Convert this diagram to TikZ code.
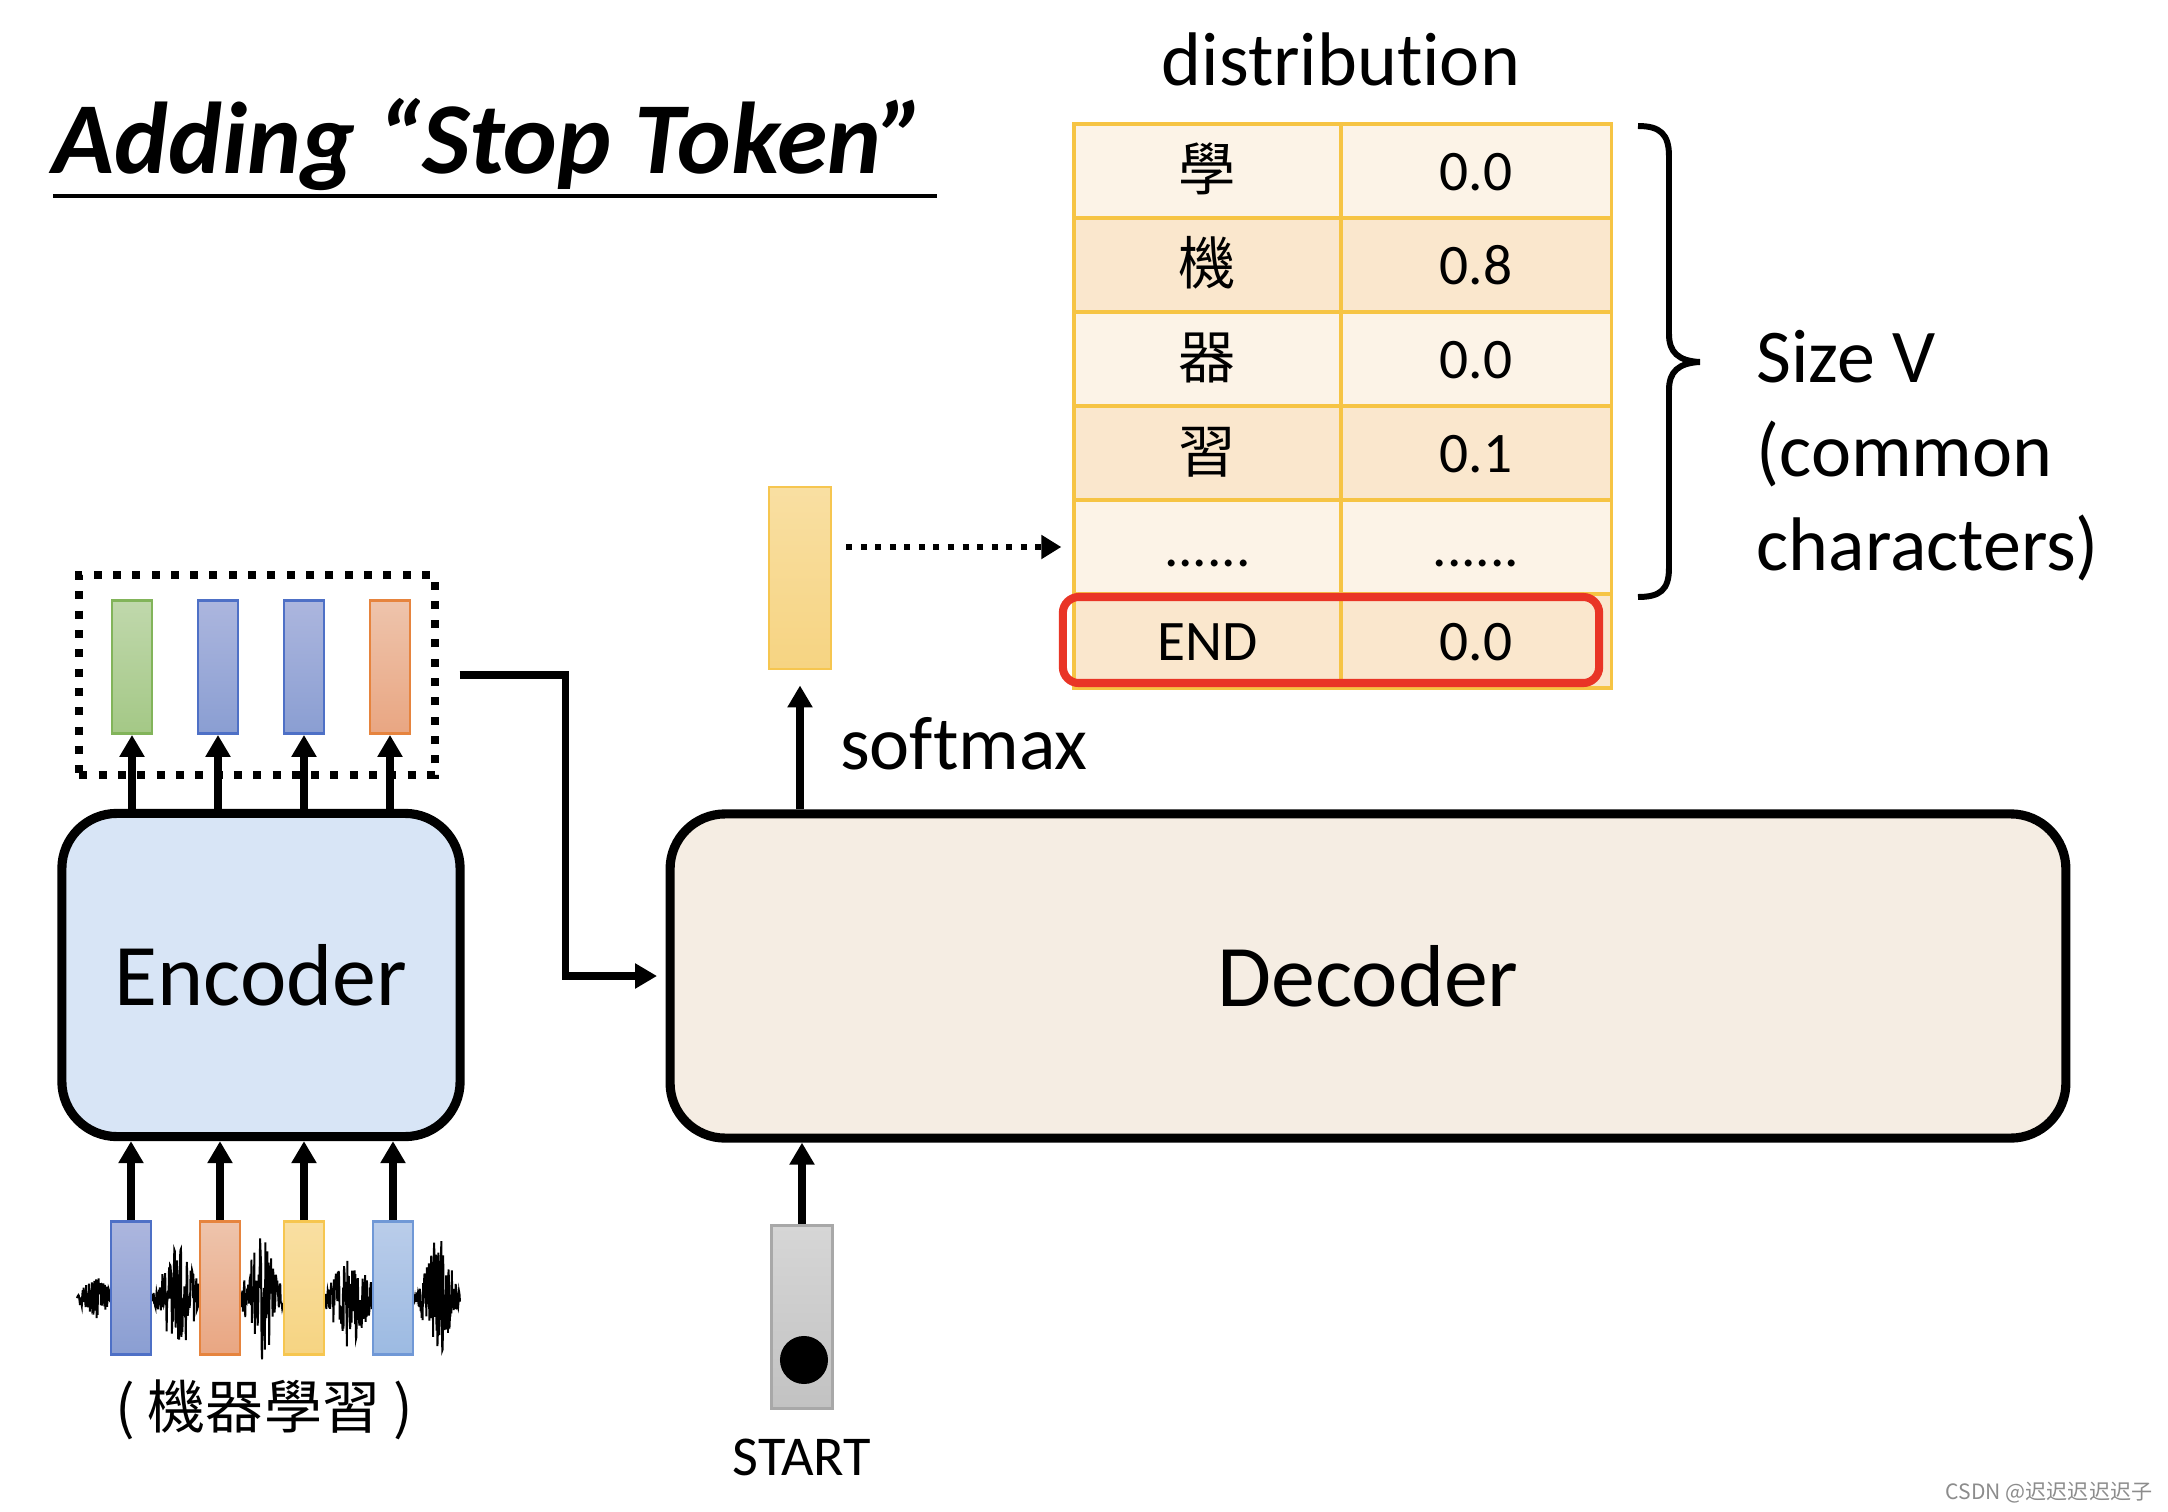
\documentclass[tikz,border=0pt]{standalone}
\usepackage{fontspec}
\setmainfont{Carlito}[Ligatures={NoCommon}]
\newfontfamily\cjk{Noto Sans CJK TC}
\newfontfamily\cjksc{Noto Sans CJK SC}
\usepackage{tikz}
\usetikzlibrary{arrows.meta}
\usetikzlibrary{positioning}
\definecolor{EncBlue}{RGB}{216,229,246}
\definecolor{DecBeige}{RGB}{245,237,227}
\definecolor{CellLight}{RGB}{252,243,231}
\definecolor{CellDark}{RGB}{250,231,205}
\definecolor{CellLine}{RGB}{246,196,68}
\definecolor{EndRed}{RGB}{233,53,38}
\definecolor{VGreenTop}{RGB}{192,216,172}
\definecolor{VGreenBot}{RGB}{164,200,134}
\definecolor{VGreenLine}{RGB}{130,180,90}
\definecolor{VBlueTop}{RGB}{172,182,222}
\definecolor{VBlueBot}{RGB}{138,158,210}
\definecolor{VBlueLine}{RGB}{78,112,198}
\definecolor{VOrangeTop}{RGB}{238,196,172}
\definecolor{VOrangeBot}{RGB}{233,166,130}
\definecolor{VOrangeLine}{RGB}{230,132,62}
\definecolor{VYellowTop}{RGB}{249,223,162}
\definecolor{VYellowBot}{RGB}{246,212,130}
\definecolor{VYellowLine}{RGB}{246,198,80}
\definecolor{VSkyTop}{RGB}{186,205,234}
\definecolor{VSkyBot}{RGB}{156,186,226}
\definecolor{VSkyLine}{RGB}{112,152,214}
\definecolor{VGrayTop}{RGB}{214,214,214}
\definecolor{VGrayBot}{RGB}{194,194,194}
\definecolor{VGrayLine}{RGB}{168,168,168}
\tikzset{
  MyBlock/.style={
    rectangle, rounded corners=5.5mm,
    line width=2.6pt, draw=black,
    font=\fontsize{25}{30}\selectfont,
  },
  MyVec/.style={
    rectangle, inner sep=0pt, line width=0.8pt,
    minimum width=4mm, minimum height=13.3mm,
  },
  MyCell/.style={
    rectangle, draw=CellLine, line width=0.9pt,
    minimum height=9.4mm, inner sep=0pt,
    text height=3.8mm, text depth=0mm,
    font=\fontsize{16.3}{19}\selectfont,
  },
  MyArrow/.style={
    -{Triangle[length=2.2mm,width=2.4mm]}, line width=2pt,
  },
  MyDotArrow/.style={
    -{Triangle[length=2mm,width=2.3mm]}, line width=1.7pt,
    dash pattern=on 0.06cm off 0.085cm,
  },
}

\begin{document}
\begin{tikzpicture}[x=0.01cm,y=-0.01cm]
\useasboundingbox (0,0) rectangle (2168,1512);
% title
\node[anchor=base west, inner sep=0pt, font=\fontsize{29}{34}\selectfont\bfseries\itshape] (title) at (52,173) {Adding “Stop Token”};
\draw[line width=1.2pt] (53,196) -- (937,196);
% speech signal
\pgfmathsetseed{11}
\draw[line width=0.55pt] plot[domain=77:460, samples=800] (\x, {1298 + (4 + 22*max(0,1-abs(\x-95)/18) + 55*max(0,1-abs(\x-178)/26) + 62*max(0,1-abs(\x-262)/24) + 50*max(0,1-abs(\x-350)/28) + 64*max(0,1-abs(\x-438)/22))*rand});
\node[MyVec, draw=VBlueLine, top color=VBlueTop, bottom color=VBlueBot] (x1) at (131,1288) {};
\node[MyVec, draw=VOrangeLine, top color=VOrangeTop, bottom color=VOrangeBot] (x2) at (220,1288) {};
\node[MyVec, draw=VYellowLine, top color=VYellowTop, bottom color=VYellowBot] (x3) at (304,1288) {};
\node[MyVec, draw=VSkyLine, top color=VSkyTop, bottom color=VSkyBot] (x4) at (393,1288) {};
\node[font=\cjk\fontsize{16.5}{20}\selectfont] (wavelbl) at (264,1410) {( 機器學習 )};
% encoder
\node[MyBlock, fill=EncBlue, minimum width=3.98cm, minimum height=3.23cm] (enc) at (261,975) {Encoder};
\draw[MyArrow] (x1.north) -- (x1 |- enc.south);
\draw[MyArrow] (x2.north) -- (x2 |- enc.south);
\draw[MyArrow] (x3.north) -- (x3 |- enc.south);
\draw[MyArrow] (x4.north) -- (x4 |- enc.south);
\node[draw, line width=2.3pt, dash pattern=on 0.08cm off 0.113cm, minimum width=3.55cm, minimum height=2cm] (outs) at (257,675) {};
\node[MyVec, draw=VGreenLine, top color=VGreenTop, bottom color=VGreenBot] (h1) at (132,667) {};
\node[MyVec, draw=VBlueLine, top color=VBlueTop, bottom color=VBlueBot] (h2) at (218,667) {};
\node[MyVec, draw=VBlueLine, top color=VBlueTop, bottom color=VBlueBot] (h3) at (304,667) {};
\node[MyVec, draw=VOrangeLine, top color=VOrangeTop, bottom color=VOrangeBot] (h4) at (390,667) {};
\draw[MyArrow] (h1 |- enc.north) -- (h1.south);
\draw[MyArrow] (h2 |- enc.north) -- (h2.south);
\draw[MyArrow] (h3 |- enc.north) -- (h3.south);
\draw[MyArrow] (h4 |- enc.north) -- (h4.south);
% decoder
\node[MyBlock, fill=DecBeige, minimum width=13.95cm, minimum height=3.24cm] (dec) at (1368,976) {Decoder};
\draw[MyArrow, shorten >=0.085cm] ([xshift=0.21cm]outs.east) -- ++(106,0) |- (dec.west);
\node[MyVec, minimum width=6.1mm, minimum height=18.3mm, draw=VGrayLine, top color=VGrayTop, bottom color=VGrayBot] (sv) at (802,1317) {};
\node[circle, fill=black, inner sep=0pt, minimum size=4.8mm] (dot) at (804,1360) {};
\node[font=\fontsize{16}{19}\selectfont] (startlbl) at (802,1457) {START};
\draw[MyArrow] (sv.north) -- (sv |- dec.south);
\node[MyVec, minimum width=6.2mm, minimum height=18.2mm, draw=VYellowLine, top color=VYellowTop, bottom color=VYellowBot] (yv) at (800,578) {};
\draw[MyArrow, shorten >=0.15cm] (dec.north -| yv) -- (yv.south);
\node[font=\fontsize{21.6}{26}\selectfont] (smx) at (964,744) {softmax};
% distribution
\node[font=\fontsize{21.6}{26}\selectfont] (distlbl) at (1341,59) {distribution};
\node[MyCell, fill=CellLight, minimum width=2.67cm] (ch1) at (1207.5,171) {\cjk 學};
\node[MyCell, fill=CellLight, minimum width=2.70cm] (pr1) at (1476,171) {0.0};
\node[MyCell, fill=CellDark, minimum width=2.67cm] (ch2) at (1207.5,265) {\cjk 機};
\node[MyCell, fill=CellDark, minimum width=2.70cm] (pr2) at (1476,265) {0.8};
\node[MyCell, fill=CellLight, minimum width=2.67cm] (ch3) at (1207.5,359) {\cjk 器};
\node[MyCell, fill=CellLight, minimum width=2.70cm] (pr3) at (1476,359) {0.0};
\node[MyCell, fill=CellDark, minimum width=2.67cm] (ch4) at (1207.5,453) {\cjk 習};
\node[MyCell, fill=CellDark, minimum width=2.70cm] (pr4) at (1476,453) {0.1};
\node[MyCell, fill=CellLight, minimum width=2.67cm] (ch5) at (1207.5,547) {......};
\node[MyCell, fill=CellLight, minimum width=2.70cm] (pr5) at (1476,547) {......};
\node[MyCell, fill=CellDark, minimum width=2.67cm] (ch6) at (1207.5,641) {END};
\node[MyCell, fill=CellDark, minimum width=2.70cm] (pr6) at (1476,641) {0.0};
\node[draw=EndRed, line width=2.3pt, rounded corners=1.6mm, minimum width=5.36cm, minimum height=0.86cm, inner sep=0pt] (endbox) at (1331,640) {};
\draw[MyDotArrow, shorten >=0.11cm] ([xshift=0.14cm]yv.east |- ch5.west) -- (ch5.west);
% size V
\draw[line width=1.7pt] (1638,126) .. controls (1660,126) and (1669,134) .. (1669,156) -- (1669,334) .. controls (1669,352) and (1678,361) .. (1700,362) .. controls (1678,363) and (1669,372) .. (1669,390) -- (1669,568) .. controls (1669,590) and (1660,597) .. (1638,597);
\node[anchor=west, align=left, inner sep=0pt, font=\fontsize{21.6}{26.7}\selectfont] (sizelbl) at (1756,456) {Size V\\(common\\characters)};
\node[anchor=east, inner sep=0pt, text=black!45, font=\cjksc\fontsize{6}{7}\selectfont] (wm) at (2153,1493) {CSDN @迟迟迟迟迟子};
\end{tikzpicture}
\end{document}
